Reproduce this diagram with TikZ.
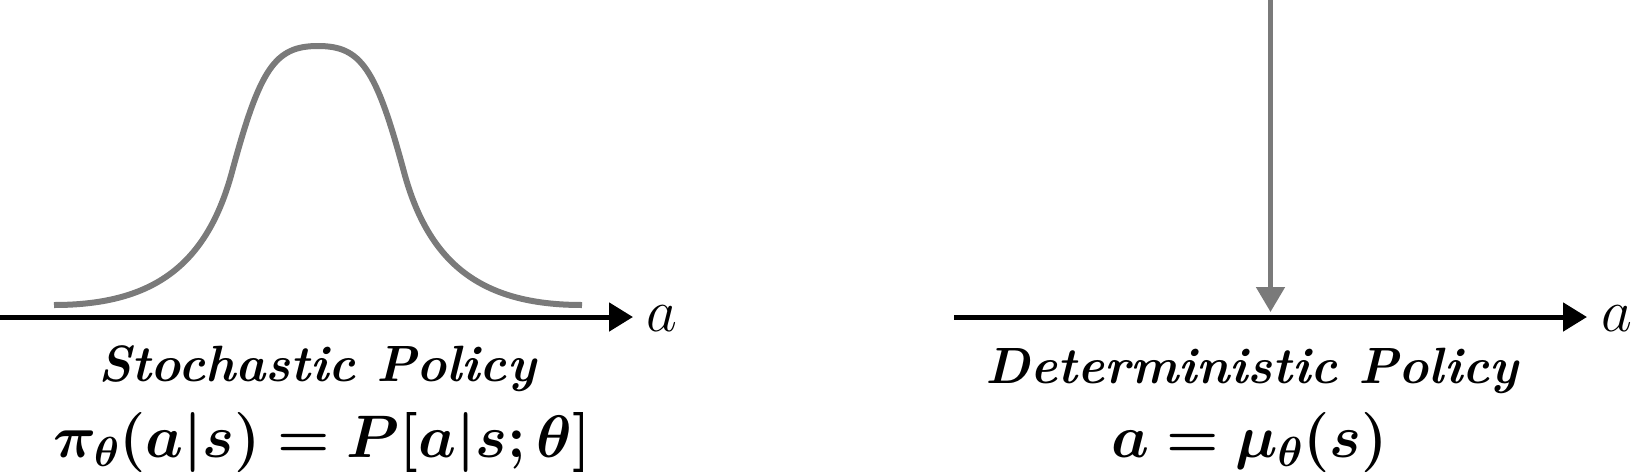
\RequirePackage{fix-cm}
\documentclass[tikz,border=0pt]{standalone}
\usepackage{bm}
\usetikzlibrary{arrows.meta}
\definecolor{curvegrey}{HTML}{7A7A7A}
\tikzset{
  axisline/.style={line width=5pt, black, -{Triangle[length=24pt,width=28pt]}},
  curveline/.style={line width=6pt, curvegrey},
  greyarrow/.style={line width=5pt, curvegrey, -{Triangle[length=25pt,width=28pt]}},
  axislabel/.style={inner sep=0pt, anchor=base west, font=\fontsize{60}{72}\selectfont},
  titletext/.style={inner sep=0pt, anchor=base, font=\fontsize{51}{60}\selectfont\bfseries\itshape},
  formula/.style={inner sep=0pt, anchor=base, font=\fontsize{60}{72}\selectfont},
}
\begin{document}
\begin{tikzpicture}[x=1pt,y=-1pt]
\useasboundingbox (0,0) rectangle (1634,475);
% left axis
\coordinate (l0) at (-5,317);
\coordinate (l1) at (633,317);
\draw[axisline] (l0) -- (l1);
\node[axislabel] (la) at (646,331) {$a$};
% gaussian curve
\draw[curveline] (54,305) .. controls (154,305) and (207,264.5) .. (232,172)
  .. controls (260,68) and (275,46) .. (318,46)
  .. controls (361,46) and (376,68) .. (404,172)
  .. controls (429,264.5) and (482,305) .. (582,305);
\node[titletext] (st) at (317,381) {Stochastic Policy};
\node[formula] (sf) at (322,457) {$\bm{\pi_\theta(a|s) = P[a|s;\theta]}$};
% right axis
\coordinate (r0) at (954,317);
\coordinate (r1) at (1587,317);
\draw[axisline] (r0) -- (r1);
\node[axislabel] (ra) at (1601,331) {$a$};
\coordinate (g0) at (1270.5,-5);
\coordinate (g1) at (1270.5,312);
\draw[greyarrow] (g0) -- (g1);
\node[titletext] (dt) at (1252,383) {Deterministic Policy};
\node[formula] (df) at (1249.5,457) {$\bm{a = \mu_\theta(s)}$};
\end{tikzpicture}
\end{document}
